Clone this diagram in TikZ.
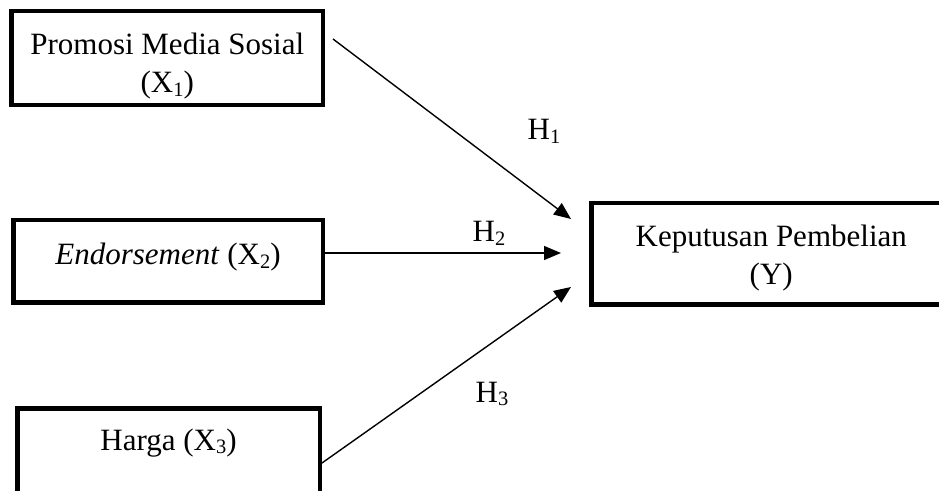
\documentclass[tikz,border=0pt]{standalone}
\usepackage{fontspec}
\setmainfont{Liberation Serif}
\usetikzlibrary{arrows.meta}
\newcommand\subx[1]{\raisebox{-0.12em}{\scalebox{0.66}{#1}}}
\begin{document}
\begin{tikzpicture}[x=1pt,y=1pt,
  box/.style={draw, line width=4.5pt, inner sep=0pt, align=center,
    font=\fontsize{31}{38}\selectfont},
  lbl/.style={font=\fontsize{31}{37}\selectfont, inner sep=0pt},
  conn/.style={line width=1.4pt, -{Triangle[length=17pt,width=14pt]}}]
\useasboundingbox (0,0) rectangle (939,490);
\clip (0,0) rectangle (939,490);
% boxes (img y -> 490 - y)
\node[box, minimum width=311.5pt, minimum height=94pt,
  text height=70pt, text depth=0pt] (b1) at (167.25,432)
  {Promosi Media Sosial\\(X\subx{1})};
\node[box, minimum width=309.5pt, minimum height=82.5pt,
  text height=7pt, text depth=0pt] (b2) at (168,228.5)
  {\textit{Endorsement} (X\subx{2})};
\node[box, minimum width=302.5pt, minimum height=86pt,
  text height=0pt, text depth=2.5pt] (b3) at (168.5,38.75)
  {Harga (X\subx{3})};
\node[box, minimum width=360pt, minimum height=101.5pt,
  text height=62pt, text depth=0pt] (y) at (771.25,236)
  {Keputusan Pembelian\\(Y)};
% connector ends
\coordinate (h1s) at (333,451);
\coordinate (h1e) at (571,271);
\coordinate (h2e) at (561,237);
\coordinate (h3s) at (322,27);
\coordinate (h3e) at (571,203);
\draw[conn] (h1s) -- (h1e);
\draw[conn] (b2.east |- h2e) -- (h2e);
\draw[conn] (b3.east |- h3s) -- (h3e);
% labels
\node[lbl] (l1) at (544,359) {H\subx{1}};
\node[lbl] (l2) at (489,257) {H\subx{2}};
\node[lbl] (l3) at (492,96) {H\subx{3}};
\end{tikzpicture}
\end{document}
